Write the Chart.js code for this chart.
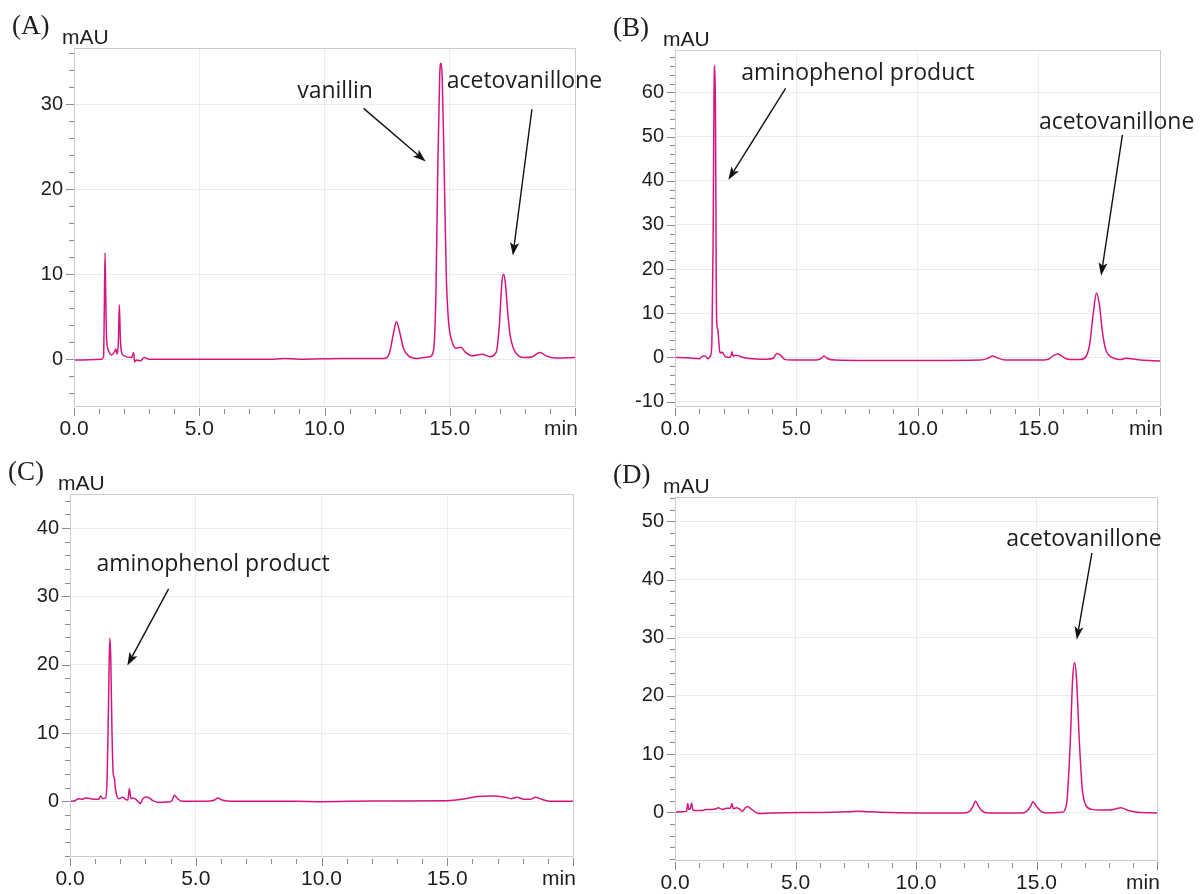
<!DOCTYPE html>
<html>
<head>
<meta charset="utf-8">
<title>HPLC chromatograms</title>
<script src="https://cdn.jsdelivr.net/npm/chart.js@4.4.1/dist/chart.umd.min.js"></script>
<style>
  html, body { margin: 0; padding: 0; background: #fff; }
  #wrap { position: relative; width: 1200px; height: 894px; overflow: hidden; }
  canvas { position: absolute; }
</style>
</head>
<body>
<div id="wrap">
  <canvas id="chartA" width="640" height="447" style="left:0px;top:0px"></canvas>
  <canvas id="chartB" width="600" height="447" style="left:600px;top:0px"></canvas>
  <canvas id="chartC" width="600" height="447" style="left:0px;top:447px"></canvas>
  <canvas id="chartD" width="600" height="447" style="left:600px;top:447px"></canvas>
</div>
<script>
// Retention time axis (min) shared by all panels
const xTicks = [0, 5, 10, 15];

// Panel A - vanillin + acetovanillone
const timeA = [0, 1.1, 1.18, 1.21, 1.24, 1.27, 1.3, 1.38, 1.5, 1.62, 1.67, 1.72, 1.77, 1.81, 1.85, 1.9, 2.0, 2.3, 2.38, 2.42, 2.5, 2.65, 2.8, 3.0, 5.0, 8.0, 8.4, 9.0, 10.7, 11.5, 12.4, 12.6, 12.75, 12.87, 13.0, 13.15, 13.35, 13.7, 14.2, 14.35, 14.45, 14.52, 14.6, 14.65, 14.7, 14.78, 14.86, 14.95, 15.1, 15.25, 15.45, 15.6, 15.9, 16.3, 16.6, 16.85, 16.98, 17.08, 17.15, 17.22, 17.3, 17.4, 17.55, 17.75, 18.0, 18.3, 18.6, 18.85, 19.2, 20];
const mauA = [-0.1, 0, 0.3, 6, 12.5, 7, 2.5, 1.0, 0.5, 0.9, 1.2, 0.6, 2, 6.4, 2.5, 0.8, 0.4, 0.2, 0.8, -0.3, -0.1, -0.2, 0.2, 0, 0, 0, 0.1, 0, 0.1, 0.1, 0.1, 0.8, 3.0, 4.4, 3.2, 1.3, 0.4, 0.1, 0.3, 1.0, 8, 22, 33.5, 34.8, 33, 22, 10, 4.5, 2.0, 1.3, 1.4, 0.9, 0.4, 0.6, 0.3, 0.8, 4, 9, 10.0, 9, 6, 3, 1.2, 0.4, 0.2, 0.3, 0.8, 0.4, 0.15, 0.2];
const yTicksA = [0, 10, 20, 30];

// Panel B
const timeB = [0, 0.5, 1.0, 1.15, 1.25, 1.35, 1.45, 1.52, 1.57, 1.61, 1.64, 1.67, 1.7, 1.73, 1.77, 1.8, 1.85, 1.9, 1.95, 2.05, 2.2, 2.3, 2.35, 2.4, 2.5, 2.6, 2.8, 3.2, 3.8, 4.05, 4.2, 4.35, 4.55, 5.0, 5.8, 6.0, 6.15, 6.3, 6.6, 8.0, 10.0, 12.6, 12.9, 13.1, 13.3, 13.6, 15.0, 15.4, 15.6, 15.78, 15.95, 16.2, 16.7, 16.95, 17.1, 17.25, 17.38, 17.5, 17.62, 17.75, 17.9, 18.1, 18.35, 18.6, 18.8, 19.2, 20];
const mauB = [0, -0.1, -0.3, 0.3, 0.3, -0.3, 0.2, 3, 25, 60, 66.1, 55, 18, 7, 6.3, 4, 1.2, 1.0, 1.2, 0.3, 0.0, 0.2, 1.3, 0.3, 0.5, 0.4, 0.0, -0.3, -0.4, -0.2, 0.9, 0.5, -0.5, -0.6, -0.6, -0.3, 0.3, -0.3, -0.6, -0.7, -0.7, -0.6, -0.2, 0.3, -0.1, -0.6, -0.6, -0.4, 0.4, 0.8, 0.3, -0.4, -0.5, 0.2, 3, 10, 14.6, 12, 6, 2.0, 0.5, -0.2, -0.5, -0.2, -0.3, -0.6, -0.8];
const yTicksB = [-10, 0, 10, 20, 30, 40, 50, 60];

// Panel C
const timeC = [0, 0.2, 0.35, 0.5, 0.6, 0.8, 1.0, 1.15, 1.22, 1.3, 1.42, 1.48, 1.53, 1.58, 1.62, 1.67, 1.72, 1.76, 1.8, 1.86, 1.95, 2.1, 2.2, 2.3, 2.36, 2.42, 2.5, 2.62, 2.72, 2.8, 2.88, 3.0, 3.15, 3.3, 3.5, 3.9, 4.05, 4.15, 4.28, 4.45, 5.4, 5.75, 5.88, 6.05, 6.4, 9.0, 10.0, 12.0, 15.0, 15.6, 16.2, 16.8, 17.3, 17.55, 17.78, 18.05, 18.3, 18.5, 18.75, 19.1, 20];
const mauC = [0, 0.1, 0.4, 0.3, 0.5, 0.4, 0.3, 0.3, 0.8, 0.4, 0.5, 4, 14, 23.9, 21, 10, 4, 3.5, 2, 0.8, 0.4, 0.6, 0.3, 0.2, 1.9, 0.4, 0.5, 0.3, -0.1, -0.3, 0.3, 0.65, 0.5, 0.1, -0.15, -0.1, 0.1, 0.9, 0.4, 0.0, 0.0, 0.2, 0.5, 0.2, 0.0, 0.0, -0.05, 0.05, 0.1, 0.3, 0.7, 0.8, 0.6, 0.4, 0.6, 0.3, 0.3, 0.6, 0.3, 0.0, 0.0];
const yTicksC = [0, 10, 20, 30, 40];

// Panel D
const timeD = [0, 0.3, 0.48, 0.53, 0.57, 0.63, 0.69, 0.74, 0.9, 1.1, 1.3, 1.5, 1.7, 1.8, 1.95, 2.15, 2.3, 2.36, 2.42, 2.55, 2.7, 2.8, 2.9, 3.0, 3.15, 3.35, 3.5, 4.0, 6.5, 7.2, 7.6, 8.0, 8.5, 10.0, 12.0, 12.2, 12.35, 12.47, 12.6, 12.75, 13.0, 14.4, 14.6, 14.75, 14.85, 15.0, 15.2, 15.4, 16.05, 16.25, 16.4, 16.5, 16.58, 16.66, 16.78, 16.9, 17.05, 17.3, 17.6, 18.0, 18.3, 18.5, 18.8, 19.2, 20];
const mauD = [0, 0.1, 0.2, 1.5, 0.5, 0.6, 1.6, 0.4, 0.3, 0.3, 0.5, 0.5, 0.6, 0.8, 0.5, 0.7, 0.7, 1.5, 0.6, 0.8, 0.5, 0.2, 0.7, 1.0, 0.6, 0.0, -0.2, -0.1, 0.0, 0.1, 0.2, 0.1, 0.0, -0.1, -0.1, 0.1, 0.9, 1.9, 1.0, 0.2, -0.1, -0.1, 0.2, 1.0, 1.8, 1.0, 0.1, -0.1, 0.0, 1.5, 12, 23, 25.7, 23, 12, 4, 1.2, 0.5, 0.4, 0.4, 0.6, 0.8, 0.3, 0.0, -0.1];
const yTicksD = [0, 10, 20, 30, 40, 50];

const lineColor = '#d4177f';
const yFont = { family: '"Liberation Sans", Arial, sans-serif', size: 20 };
const xFont = { family: '"Liberation Sans", Arial, sans-serif', size: 21 };

// draws frame, tick marks, unit labels, panel letter and the arrows + notes
const decor = {
  id: 'decor',
  afterDraw(chart, args, opts) {
    const { ctx, chartArea: a, scales: { x, y } } = chart;
    ctx.save();
    ctx.lineWidth = 1;
    ctx.strokeStyle = '#cdcdcd';
    ctx.strokeRect(a.left + 0.5, a.top + 0.5, a.right - a.left, a.bottom - a.top);

    ctx.strokeStyle = '#8a8a8a';
    ctx.beginPath();
    for (let v = Math.ceil(y.min / 2) * 2; v <= y.max; v += 2) {
      const py = Math.round(y.getPixelForValue(v)) + 0.5;
      const len = v % 10 === 0 ? 8 : 5;
      ctx.moveTo(a.left - len, py);
      ctx.lineTo(a.left, py);
    }
    for (let v = 0; v <= 20; v++) {
      const px = Math.round(x.getPixelForValue(v)) + 0.5;
      const major = v % 5 === 0;
      ctx.moveTo(px, a.bottom + (major ? 2 : 3));
      ctx.lineTo(px, a.bottom + (major ? 10 : 8));
    }
    ctx.stroke();

    ctx.fillStyle = '#1e1e1e';
    ctx.font = '21px "Liberation Sans", Arial, sans-serif';
    ctx.textAlign = 'left';
    ctx.textBaseline = 'alphabetic';
    ctx.fillText('mAU', a.left - 12, a.top - 4);
    ctx.textAlign = 'center';
    ctx.fillText('min', a.right - 14, a.bottom + 29);

    ctx.font = '27px "Liberation Serif", "Times New Roman", serif';
    ctx.textAlign = 'left';
    ctx.fillText(opts.panel, a.left - 62, a.top - 14);

    ctx.font = '23px "Open Sans", sans-serif';
    ctx.textAlign = 'center';
    opts.notes.forEach(n => {
      ctx.fillText(n.text, x.getPixelForValue(n.x), y.getPixelForValue(n.y));
    });

    ctx.strokeStyle = '#111';
    ctx.fillStyle = '#111';
    ctx.lineWidth = 1.4;
    opts.arrows.forEach(ar => {
      const x1 = x.getPixelForValue(ar[0]), y1 = y.getPixelForValue(ar[1]);
      const x2 = x.getPixelForValue(ar[2]), y2 = y.getPixelForValue(ar[3]);
      const ang = Math.atan2(y2 - y1, x2 - x1);
      const hl = 13, hw = 4.5;
      const bx = x2 - hl * Math.cos(ang), by = y2 - hl * Math.sin(ang);
      ctx.beginPath();
      ctx.moveTo(x1, y1);
      ctx.lineTo(bx + 3 * Math.cos(ang), by + 3 * Math.sin(ang));
      ctx.stroke();
      ctx.beginPath();
      ctx.moveTo(x2, y2);
      ctx.lineTo(bx - hw * Math.sin(ang), by + hw * Math.cos(ang));
      ctx.lineTo(bx + 3 * Math.cos(ang), by + 3 * Math.sin(ang));
      ctx.lineTo(bx + hw * Math.sin(ang), by - hw * Math.cos(ang));
      ctx.closePath();
      ctx.fill();
    });
    ctx.restore();
  }
};

function makeChart(id, panel, times, values, yMin, yMax, yTicks, box, notes, arrows) {
  const canvas = document.getElementById(id);
  const points = times.map((t, i) => ({ x: t, y: values[i] }));
  return new Chart(canvas, {
    type: 'line',
    data: {
      datasets: [{
        data: points,
        borderColor: lineColor,
        borderWidth: 1.5,
        pointRadius: 0,
        cubicInterpolationMode: 'monotone',
        fill: false
      }]
    },
    options: {
      responsive: false,
      animation: false,
      devicePixelRatio: 1,
      layout: { padding: { top: box.top, right: canvas.width - box.right, left: 0, bottom: 0 } },
      plugins: {
        legend: { display: false },
        tooltip: { enabled: false },
        decor: { panel: panel, notes: notes, arrows: arrows }
      },
      scales: {
        x: {
          type: 'linear',
          min: 0,
          max: 20,
          afterBuildTicks: s => { s.ticks = xTicks.map(v => ({ value: v })); },
          afterFit: s => { s.height = canvas.height - box.bottom; },
          ticks: { font: xFont, color: '#1e1e1e', padding: 11, maxRotation: 0, callback: v => v.toFixed(1) },
          grid: { color: '#ececec', drawTicks: false },
          border: { display: false }
        },
        y: {
          type: 'linear',
          min: yMin,
          max: yMax,
          afterBuildTicks: s => { s.ticks = yTicks.map(v => ({ value: v })); },
          afterFit: s => { s.width = box.left; },
          ticks: { font: yFont, color: '#1e1e1e', padding: 11, callback: v => String(v) },
          grid: { color: '#ececec', drawTicks: false },
          border: { display: false }
        }
      }
    },
    plugins: [decor]
  });
}

makeChart('chartA', '(A)', timeA, mauA, -5.5, 36.6, yTicksA,
  { left: 74, right: 575, top: 48, bottom: 406 },
  [{ text: 'vanillin', x: 10.42, y: 30.74 }, { text: 'acetovanillone', x: 17.98, y: 31.9 }],
  [[11.56, 29.5, 14.04, 23.25], [18.28, 29.4, 17.52, 12.2]]);

makeChart('chartB', '(B)', timeB, mauB, -11, 69.6, yTicksB,
  { left: 75, right: 560, top: 50, bottom: 406 },
  [{ text: 'aminophenol product', x: 7.54, y: 62.8 }, { text: 'acetovanillone', x: 18.21, y: 51.7 }],
  [[4.56, 60.9, 2.2, 40.2], [18.45, 50.4, 17.57, 18.5]]);

makeChart('chartC', '(C)', timeC, mauC, -8, 45, yTicksC,
  { left: 70, right: 573, top: 47, bottom: 409 },
  [{ text: 'aminophenol product', x: 5.69, y: 33.7 }],
  [[3.92, 31.1, 2.28, 19.9]]);

makeChart('chartD', '(D)', timeD, mauD, -8.2, 54.2, yTicksD,
  { left: 75, right: 557, top: 50, bottom: 413 },
  [{ text: 'acetovanillone', x: 16.97, y: 45.8 }],
  [[17.3, 44.6, 16.67, 29.7]]);
</script>
</body>
</html>
